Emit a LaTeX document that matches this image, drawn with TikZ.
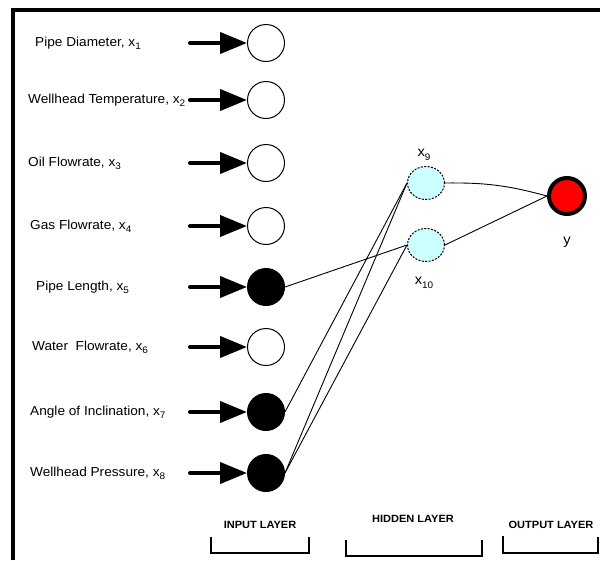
\documentclass[tikz,border=0pt]{standalone}
\usepackage{tikz}
\usepackage{xcolor}
\usepackage{fontspec}
\setmainfont{Liberation Sans}[FakeStretch=1.05]
\usetikzlibrary{arrows.meta,shapes.geometric}

\definecolor{hidfill}{HTML}{CCFFFF}
\newcommand{\xsub}[1]{x\raisebox{-0.45ex}{\fontsize{9.5}{10}\selectfont #1}}

\tikzset{
  inp/.style={circle, draw, line width=1pt, minimum size=37pt, inner sep=0pt},
  hid/.style={ellipse, draw, fill=hidfill, line width=1pt, dash pattern=on 2pt off 1.4pt,
    minimum width=37pt, minimum height=33pt, inner sep=0pt},
  feed/.style={line width=4pt, line cap=round, -{Triangle[length=27pt,width=21pt]}},
  link/.style={line width=0.9pt},
  brace/.style={line width=2pt},
  layname/.style={font=\fontsize{10.5}{12}\selectfont\bfseries}
}

\begin{document}
\begin{tikzpicture}[x=1pt, y=-1pt, font=\fontsize{13}{15}\selectfont]

\useasboundingbox (0, 0) rectangle (600, 560); % limit img size

% frame
\draw[line width=4pt] (13, 560) -- (13, 10) -- (600, 10);

% input layer
\foreach \n/\yy/\xx/\col/\txt in {
  1/43/35/white/Pipe Diameter,
  2/100/28/white/Wellhead Temperature,
  3/163/28/white/Oil Flowrate,
  4/226/30/white/Gas Flowrate,
  5/287/36/black/Pipe Length,
  6/347/32/white/Water\ \ Flowrate,
  7/412/30/black/Angle of Inclination,
  8/473/30/black/Wellhead Pressure}{
  \node[inp, fill=\col] (i\n) at (266, \yy) {};
  \node[anchor=west, inner sep=0pt] (lab\n) at (\xx, \yy) {\txt, \xsub{\n}};
  \coordinate (s\n) at (190, \yy);
  \draw[feed] (s\n) -- (i\n.west);
}

% hidden layer
\node[hid] (h9) at (426, 183) {};
\node[hid] (h10) at (426, 245) {};
\node[font=\fontsize{14}{15}\selectfont] (lab9) at (424, 155) {\xsub{9}};
\node[font=\fontsize{14}{15}\selectfont] (lab10) at (424, 283) {\xsub{10}};

% output layer
\node[circle, draw, fill=red, line width=4pt, minimum size=36pt, inner sep=0pt] (out) at (567, 196) {};
\node[font=\fontsize{14}{15}\selectfont] (laby) at (567, 242) {y};

% weights
\draw[link] (i5.east) -- (h10.west);
\draw[link] (i7.east) -- (h9.west);
\draw[link] (i8.east) -- (h9.west);
\draw[link] (i8.east) -- (h10.west);
\draw[link] (h9.east) to[bend left=8] (out.west);
\draw[link] (h10.east) -- (out.west);

% layer names
\node[layname] (inlay) at (260, 525) {INPUT LAYER};
\node[layname] (hidlay) at (413, 519) {HIDDEN LAYER};
\node[layname] (outlay) at (551, 525) {OUTPUT LAYER};
\draw[brace] (211, 537) -- (211, 553) -- (309, 553) -- (309, 537);
\draw[brace] (346, 540) -- (346, 556) -- (482, 556) -- (482, 540);
\draw[brace] (503, 536) -- (503, 553) -- (598, 553) -- (598, 537);

\end{tikzpicture}
\end{document}
